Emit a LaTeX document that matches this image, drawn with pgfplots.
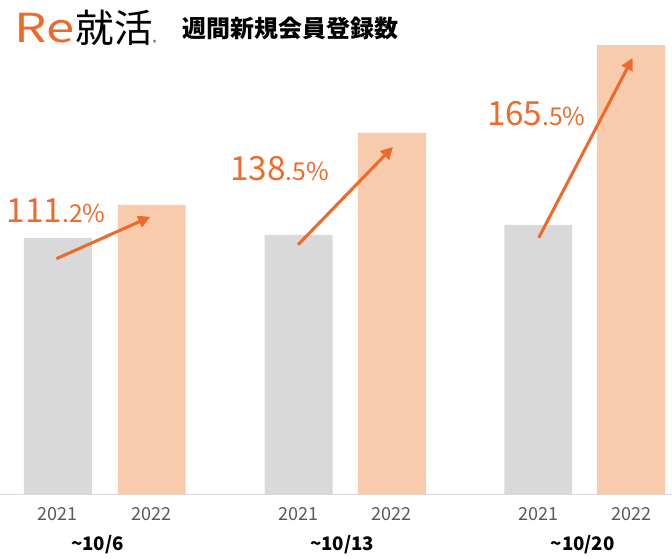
\documentclass[border=0pt]{standalone}
\usepackage{pgfplots}
\pgfplotsset{compat=1.18}
\usetikzlibrary{arrows.meta}
\usepackage{fontspec}
\setmainfont{Noto Sans CJK JP}
\definecolor{bargrey}{HTML}{D9D9D9}
\definecolor{barorange}{HTML}{F8CBAD}
\definecolor{accent}{HTML}{EE6A2A}
\definecolor{ticktext}{HTML}{595959}
\begin{document}
\begin{tikzpicture}
\begin{axis}[
  scale only axis,
  width=504pt, height=371.25pt,
  xmin=0, xmax=672, ymin=0, ymax=495,
  clip=false,
  axis line style={draw=none},
  major tick length=0pt,
  ytick=\empty,
  xtick={57.5,151.5,298.5,392,538.5,631.5},
  xticklabels={2021,2022,2021,2022,2021,2022},
  xticklabel style={font=\fontsize{13.5}{15}\selectfont, text=ticktext, yshift=-6pt},
  /pgf/number format/assume math mode=true,
  ybar, bar shift=0pt, bar width=68,
]
\path (axis cs:0,-58) rectangle (axis cs:672,495);
\draw[bargrey, line width=0.75pt] (axis cs:0,0) -- (axis cs:672,0);
\addplot[fill=bargrey, draw=none] coordinates {(57.5,257) (298.5,260) (538.5,270)};
\addplot[fill=barorange, draw=none] coordinates {(151.5,290) (392,362) (631.5,450)};
% arrows
\draw[accent, line width=2.3pt, -{Triangle[length=9pt,width=9pt]}] (axis cs:56,236) -- (axis cs:150,278);
\draw[accent, line width=2.3pt, -{Triangle[length=9pt,width=9pt]}] (axis cs:298,250) -- (axis cs:393,348);
\draw[accent, line width=2.3pt, -{Triangle[length=9pt,width=9pt]}] (axis cs:539,257) -- (axis cs:633,437);
% percent labels
\node[anchor=base west, inner sep=0pt, text=accent] at (axis cs:6,272) {\fontsize{25}{28}\selectfont 111\fontsize{18.5}{20}\selectfont .2\%};
\node[anchor=base west, inner sep=0pt, text=accent] at (axis cs:230,314) {\fontsize{25}{28}\selectfont 138\fontsize{18.5}{20}\selectfont .5\%};
\node[anchor=base west, inner sep=0pt, text=accent] at (axis cs:487,369) {\fontsize{25}{28}\selectfont 165\fontsize{18.5}{20}\selectfont .5\%};
% group labels
\node[font=\bfseries\fontsize{14}{16}\selectfont] at (axis cs:97,-50) {\textasciitilde 10/6};
\node[font=\bfseries\fontsize{14}{16}\selectfont] at (axis cs:342,-50) {\textasciitilde 10/13};
\node[font=\bfseries\fontsize{14}{16}\selectfont] at (axis cs:583,-50) {\textasciitilde 10/20};
% logo and title
\node[anchor=west, inner sep=0pt] at (axis cs:14,467) {\textcolor{accent}{\resizebox{45pt}{22pt}{Re}}\hspace{1pt}\fontsize{29}{30}\selectfont 就活\raisebox{-2pt}{\tiny\textregistered}};
\node[anchor=west, inner sep=0pt, font=\bfseries\fontsize{18}{20}\selectfont] at (axis cs:182,467) {週間新規会員登録数};
\end{axis}
\end{tikzpicture}
\end{document}
